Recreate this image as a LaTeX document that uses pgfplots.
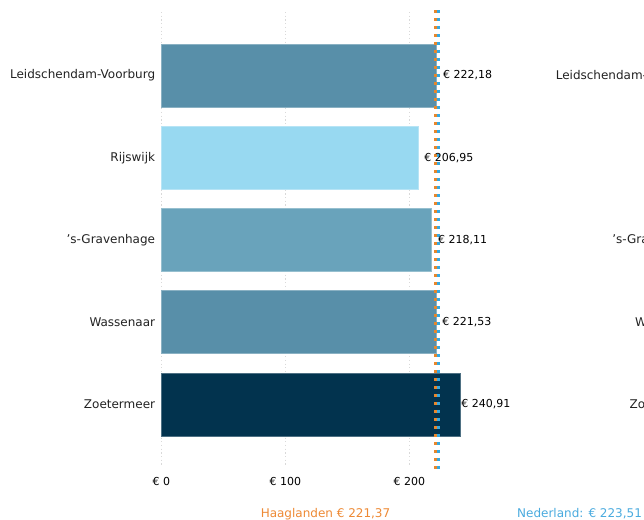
\documentclass[border=0pt]{standalone}
\usepackage{pgfplots}
\pgfplotsset{compat=1.18}
\usepackage{fontspec}
\defaultfontfeatures{}
\setmainfont{DejaVu Sans}
\definecolor{cA}{HTML}{588FA9}
\definecolor{cB}{HTML}{98D9F1}
\definecolor{cC}{HTML}{69A3BB}
\definecolor{cD}{HTML}{02334E}
\definecolor{lOr}{HTML}{E8872B}
\definecolor{lBl}{HTML}{35A8E0}
\definecolor{tOr}{HTML}{EE8A35}
\definecolor{tBl}{HTML}{4AABDF}
\definecolor{txt}{HTML}{222222}
\newcommand{\bigf}{\fontsize{12bp}{14bp}\selectfont}
\newcommand{\smf}{\fontsize{11bp}{13bp}\selectfont}
\newcommand{\sq}{{\char39}}
\begin{document}
\begin{tikzpicture}
\useasboundingbox (0,0) rectangle (644bp,-520bp);
\clip (0,0) rectangle (644bp,-520bp);
\fill[white] (0,0) rectangle (644bp,-520bp);
\begin{axis}[
  at={(161.3bp,-12bp)}, anchor=north west,
  scale only axis, width=310bp, height=453bp,
  xmin=0, xmax=250, ymin=-0.772, ymax=4.736,
  y dir=reverse, clip=false,
  axis line style={draw=none},
  major tick length=0pt,
  xtick={0,100,200},
  xticklabels={€ 0,€ 100,€ 200},
  xticklabel style={font=\smf, text=black, anchor=center, inner sep=0pt, yshift=-16bp},
  ytick={0,1,2,3,4},
  yticklabels={Leidschendam-Voorburg,Rijswijk,\sq s-Gravenhage,Wassenaar,Zoetermeer},
  yticklabel style={font=\bigf, text=txt, anchor=east, inner sep=0pt, xshift=-6bp},
  xmajorgrids,
  grid style={draw=black!15, line width=0.8bp, dash pattern=on 1.2bp off 2.5bp},
  every node near coord/.append style={font=\smf, text=black, anchor=west, inner sep=0pt, xshift=6bp},
]
\addplot[xbar, bar width=63bp, bar shift=0pt, fill=cA, draw=cA!70!white, line width=0.8bp,
  nodes near coords={€ 222,18}] coordinates {(222.18,0)};
\addplot[xbar, bar width=63bp, bar shift=0pt, fill=cB, draw=cB!70!white, line width=0.8bp,
  nodes near coords={€ 206,95}] coordinates {(206.95,1)};
\addplot[xbar, bar width=63bp, bar shift=0pt, fill=cC, draw=cC!70!white, line width=0.8bp,
  nodes near coords={€ 218,11}] coordinates {(218.11,2)};
\addplot[xbar, bar width=63bp, bar shift=0pt, fill=cA, draw=cA!70!white, line width=0.8bp,
  nodes near coords={€ 221,53}] coordinates {(221.53,3)};
\addplot[xbar, bar width=63bp, bar shift=0pt, fill=cD, draw=cD!70!white, line width=0.8bp,
  nodes near coords={€ 240,91},
  every node near coord/.append style={xshift=-5bp}] coordinates {(240.91,4)};
\addplot[lOr, line width=2.7bp, dash pattern=on 3.3bp off 4.7bp, mark=none] coordinates {(221.37,-0.796) (221.37,4.796)};
\addplot[lBl, line width=2.7bp, dash pattern=on 3.3bp off 4.7bp, mark=none] coordinates {(223.51,-0.796) (223.51,4.796)};
\end{axis}
\node[font=\bigf, text=tOr, inner sep=0pt, anchor=center] at (325.5bp,-514bp) {Haaglanden € 221,37};
\node[font=\bigf, text=tBl, inner sep=0pt, anchor=west] at (517bp,-514bp) {Nederland: € 223,51};
\node[font=\bigf, text=txt, inner sep=0pt, anchor=east] at (701bp,-76bp) {Leidschendam-Voorburg};
\node[font=\bigf, text=txt, inner sep=0pt, anchor=east] at (701bp,-158bp) {Rijswijk};
\node[font=\bigf, text=txt, inner sep=0pt, anchor=east] at (701bp,-240bp) {\sq s-Gravenhage};
\node[font=\bigf, text=txt, inner sep=0pt, anchor=east] at (701bp,-322bp) {Wassenaar};
\node[font=\bigf, text=txt, inner sep=0pt, anchor=east] at (701bp,-404bp) {Zoetermeer};
\end{tikzpicture}
\end{document}
